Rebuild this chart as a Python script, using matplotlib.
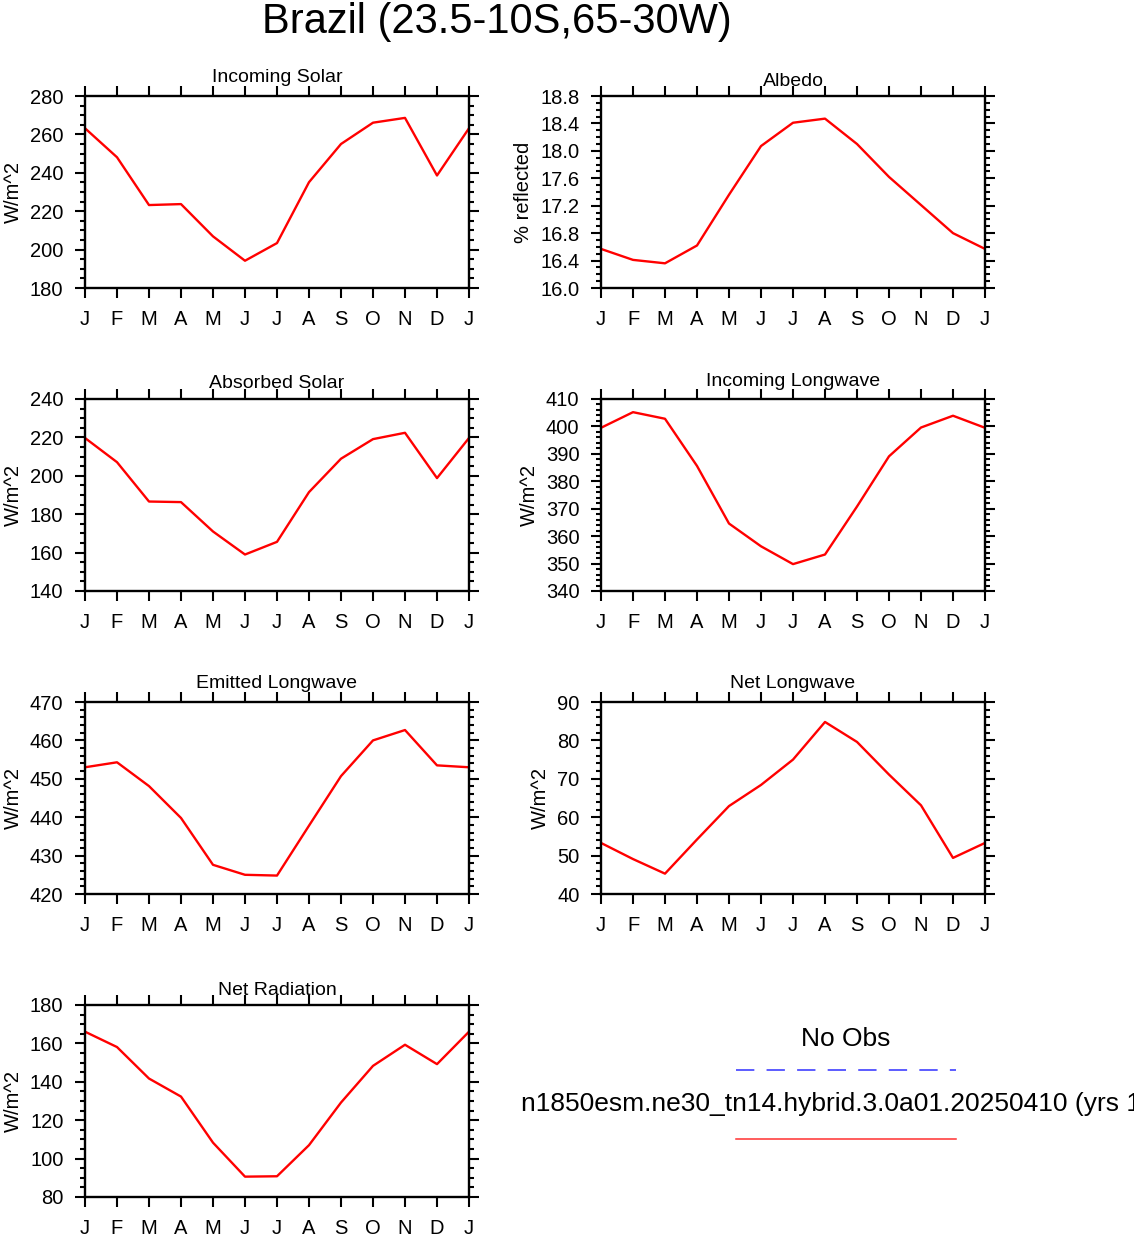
import matplotlib
matplotlib.use("Agg")
import matplotlib.pyplot as plt
from matplotlib.ticker import MultipleLocator, FormatStrFormatter
from matplotlib.lines import Line2D

plt.rcParams['font.family'] = ['Liberation Sans', 'DejaVu Sans']

# months J..J (13 points, January repeated)
months = ["J", "F", "M", "A", "M", "J", "J", "A", "S", "O", "N", "D", "J"]

incoming_solar = [263.2, 248.1, 223.2, 223.7, 206.9, 194.2, 203.4, 235.1, 255.0, 266.1, 268.6, 238.6, 263.2]
albedo = [16.57, 16.41, 16.36, 16.62, 17.36, 18.07, 18.41, 18.47, 18.10, 17.62, 17.21, 16.80, 16.57]
absorbed_solar = [219.7, 207.1, 186.6, 186.3, 171.0, 159.0, 165.6, 191.5, 208.9, 219.1, 222.4, 198.8, 219.7]
incoming_lw = [399.5, 405.2, 402.8, 385.6, 364.6, 356.3, 349.8, 353.3, 370.8, 389.1, 399.6, 403.9, 399.5]
emitted_lw = [453.0, 454.3, 448.1, 439.8, 427.6, 425.0, 424.8, 437.8, 450.7, 460.0, 462.7, 453.5, 453.0]
net_lw = [53.3, 49.1, 45.3, 54.2, 62.9, 68.4, 75.0, 84.8, 79.6, 71.1, 63.1, 49.4, 53.3]
net_rad = [166.1, 158.1, 141.7, 132.3, 108.3, 90.6, 90.8, 107.0, 129.2, 148.3, 159.3, 149.2, 166.1]

titles = ["Incoming Solar", "Albedo", "Absorbed Solar", "Incoming Longwave",
          "Emitted Longwave", "Net Longwave", "Net Radiation"]
ylabels = ["W/m^2", "% reflected", "W/m^2", "W/m^2", "W/m^2", "W/m^2", "W/m^2"]
series = [incoming_solar, albedo, absorbed_solar, incoming_lw, emitted_lw, net_lw, net_rad]
ylims = [(180, 280), (16.0, 18.8), (140, 240), (340, 410), (420, 470), (40, 90), (80, 180)]
ymajor = [20, 0.4, 20, 10, 10, 10, 20]
yminor = [5, 0.1, 5, 2, 2, 2, 5]
title_pad = [14, 10.5, 10.5, 13.5, 14, 14, 10]   # px above the frame

W, H = 1134, 1236
fig = plt.figure(figsize=(W / 100, H / 100), dpi=100)

lefts = [85, 601]
tops = [96, 399, 702, 1005]
aw, ah = 384, 192

for i in range(7):
    r, c = divmod(i, 2)
    x0 = lefts[c]
    y0 = tops[r]
    ax = fig.add_axes([x0 / W, 1 - (y0 + ah) / H, aw / W, ah / H])
    ax.plot(range(13), series[i], color="red", lw=1.7)
    ax.set_xlim(0, 12)
    ax.set_ylim(*ylims[i])
    ax.set_xticks(range(13))
    ax.set_xticklabels(months)
    ax.yaxis.set_major_locator(MultipleLocator(ymajor[i]))
    ax.yaxis.set_minor_locator(MultipleLocator(yminor[i]))
    if i == 1:
        ax.yaxis.set_major_formatter(FormatStrFormatter("%.1f"))
    ax.tick_params(which="both", direction="out", top=True, right=True, width=1.5, labelsize=14.5)
    ax.tick_params(which="major", length=7.5, pad=8)
    ax.tick_params(which="minor", length=3.3)
    ax.tick_params(axis="x", which="minor", bottom=False, top=False)
    for s in ax.spines.values():
        s.set_linewidth(1.7)
    ax.set_ylabel(ylabels[i], fontsize=14.5, labelpad=5)
    ax.text(0.5, 1 + title_pad[i] / ah, titles[i], transform=ax.transAxes,
            ha="center", va="baseline", fontsize=14)

fig.text(497 / W, 1 - 33 / H, "Brazil (23.5-10S,65-30W)", ha="center", va="baseline", fontsize=30)

# legend panel
fig.text(846 / W, 1 - 1046 / H, "No Obs", ha="center", va="baseline", fontsize=19)
fig.add_artist(Line2D([736 / W, 956 / W], [1 - 1070 / H, 1 - 1070 / H], transform=fig.transFigure,
                      color="#3030ff", lw=1.1, dashes=(12, 8)))
fig.text(521 / W, 1 - 1111 / H, "n1850esm.ne30_tn14.hybrid.3.0a01.20250410 (yrs 1-20)",
         ha="left", va="baseline", fontsize=19)
fig.add_artist(Line2D([736 / W, 956 / W], [1 - 1139 / H, 1 - 1139 / H], transform=fig.transFigure,
                      color="#ff3030", lw=1.1))

fig.savefig("out.png", dpi=100)
